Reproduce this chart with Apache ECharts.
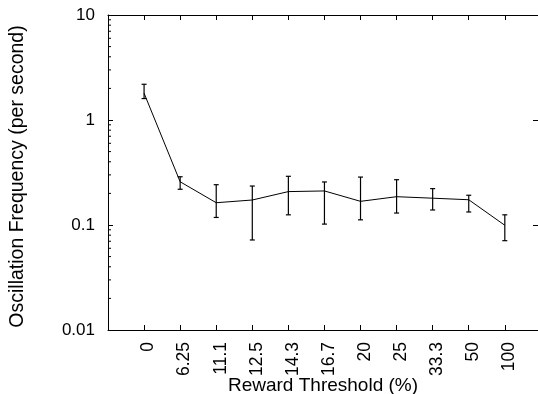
<!DOCTYPE html>
<html>
<head>
<meta charset="utf-8">
<script src="https://cdn.jsdelivr.net/npm/echarts@6/dist/echarts.min.js"></script>
<style>html,body{margin:0;padding:0;background:#fff;}#c{width:538px;height:394px;}</style>
</head>
<body>
<div id="c"></div>
<script>
const categories = ['0','6.25','11.1','12.5','14.3','16.7','20','25','33.3','50','100'];
const means = [1.80,0.258,0.163,0.173,0.208,0.211,0.168,0.186,0.180,0.174,0.0994];
const lows  = [1.60,0.219,0.118,0.072,0.125,0.102,0.112,0.130,0.139,0.133,0.0709];
const highs = [2.19,0.288,0.242,0.235,0.291,0.257,0.286,0.270,0.222,0.192,0.125];
const yMinorTicks = [0.02,0.03,0.04,0.05,0.06,0.07,0.08,0.09,0.2,0.3,0.4,0.5,0.6,0.7,0.8,0.9,2,3,4,5,6,7,8,9];

const FONT = '"Liberation Sans", Arial, sans-serif';
const chart = echarts.init(document.getElementById('c'), null, {renderer:'canvas'});
const xMin = -1, xMax = 10.92;
const axisLineStyle = {color:'#000', width:1};
chart.setOption({
  animation:false,
  backgroundColor:'#fff',
  grid:{left:108, top:15, right:0, bottom:64, containLabel:false, outerBoundsMode:'none'},
  xAxis:[{
    type:'value', min:xMin, max:xMax, interval:1, position:'bottom',
    axisLine:{show:true, onZero:false, lineStyle:axisLineStyle},
    axisTick:{show:true, inside:true, length:5, lineStyle:axisLineStyle},
    splitLine:{show:false},
    axisLabel:{rotate:90, fontSize:17.5, fontFamily:FONT, color:'#000', margin:12,
      verticalAlign:'top', lineHeight:9,
      showMinLabel:true, showMaxLabel:true,
      formatter:function(v){ return (Number.isInteger(v) && v>=0 && v<categories.length) ? categories[v] : ''; }},
    name:'Reward Threshold (%)', nameLocation:'middle', nameGap:46, nameMoveOverlap:false,
    nameTextStyle:{fontSize:19, fontFamily:FONT, color:'#000'}
  },{
    type:'value', min:xMin, max:xMax, interval:1, position:'top',
    axisLine:{show:true, onZero:false, lineStyle:axisLineStyle},
    axisTick:{show:true, inside:true, length:5, lineStyle:axisLineStyle},
    splitLine:{show:false}, axisLabel:{show:false}
  }],
  yAxis:[{
    type:'log', logBase:10, min:0.01, max:10, position:'left',
    axisLine:{show:true, onZero:false, lineStyle:axisLineStyle},
    axisTick:{show:true, inside:true, length:5, lineStyle:axisLineStyle},
    splitLine:{show:false},
    axisLabel:{fontSize:17, fontFamily:FONT, color:'#000', margin:13,
      formatter:function(v){ return String(+v.toPrecision(6)); }},
    name:'Oscillation Frequency (per second)', nameLocation:'middle', nameGap:80, nameRotate:90,
    nameMoveOverlap:false,
    nameTextStyle:{fontSize:19.5, fontFamily:FONT, color:'#000', padding:[0,8,0,0]}
  },{
    type:'log', logBase:10, min:0.01, max:10, position:'right',
    axisLine:{show:true, onZero:false, lineStyle:axisLineStyle},
    axisTick:{show:true, inside:true, length:5, lineStyle:axisLineStyle},
    splitLine:{show:false}, axisLabel:{show:false}
  }],
  series:[{
    type:'custom', xAxisIndex:0, yAxisIndex:0, silent:true,
    data: yMinorTicks.map(v=>[xMin, v]),
    renderItem:function(params, api){
      const p = api.coord([api.value(0), api.value(1)]);
      return {type:'line', shape:{x1:p[0], y1:p[1], x2:p[0]+3, y2:p[1]}, style:{stroke:'#000', lineWidth:1}};
    }
  },{
    type:'line', xAxisIndex:0, yAxisIndex:0,
    data: means.map((v,i)=>[i,v]),
    symbol:'none', lineStyle:{color:'#000', width:1}, silent:true
  },{
    type:'custom', xAxisIndex:0, yAxisIndex:0, silent:true,
    data: means.map((v,i)=>[i, lows[i], highs[i]]),
    renderItem:function(params, api){
      const x = api.value(0);
      const lo = api.coord([x, api.value(1)]);
      const hi = api.coord([x, api.value(2)]);
      const w = 2.5, st = {stroke:'#000', lineWidth:1.2};
      return {type:'group', children:[
        {type:'line', shape:{x1:lo[0], y1:lo[1], x2:hi[0], y2:hi[1]}, style:st},
        {type:'line', shape:{x1:lo[0]-w, y1:lo[1], x2:lo[0]+w, y2:lo[1]}, style:st},
        {type:'line', shape:{x1:hi[0]-w, y1:hi[1], x2:hi[0]+w, y2:hi[1]}, style:st}
      ]};
    }
  }]
});
</script>
</body>
</html>
